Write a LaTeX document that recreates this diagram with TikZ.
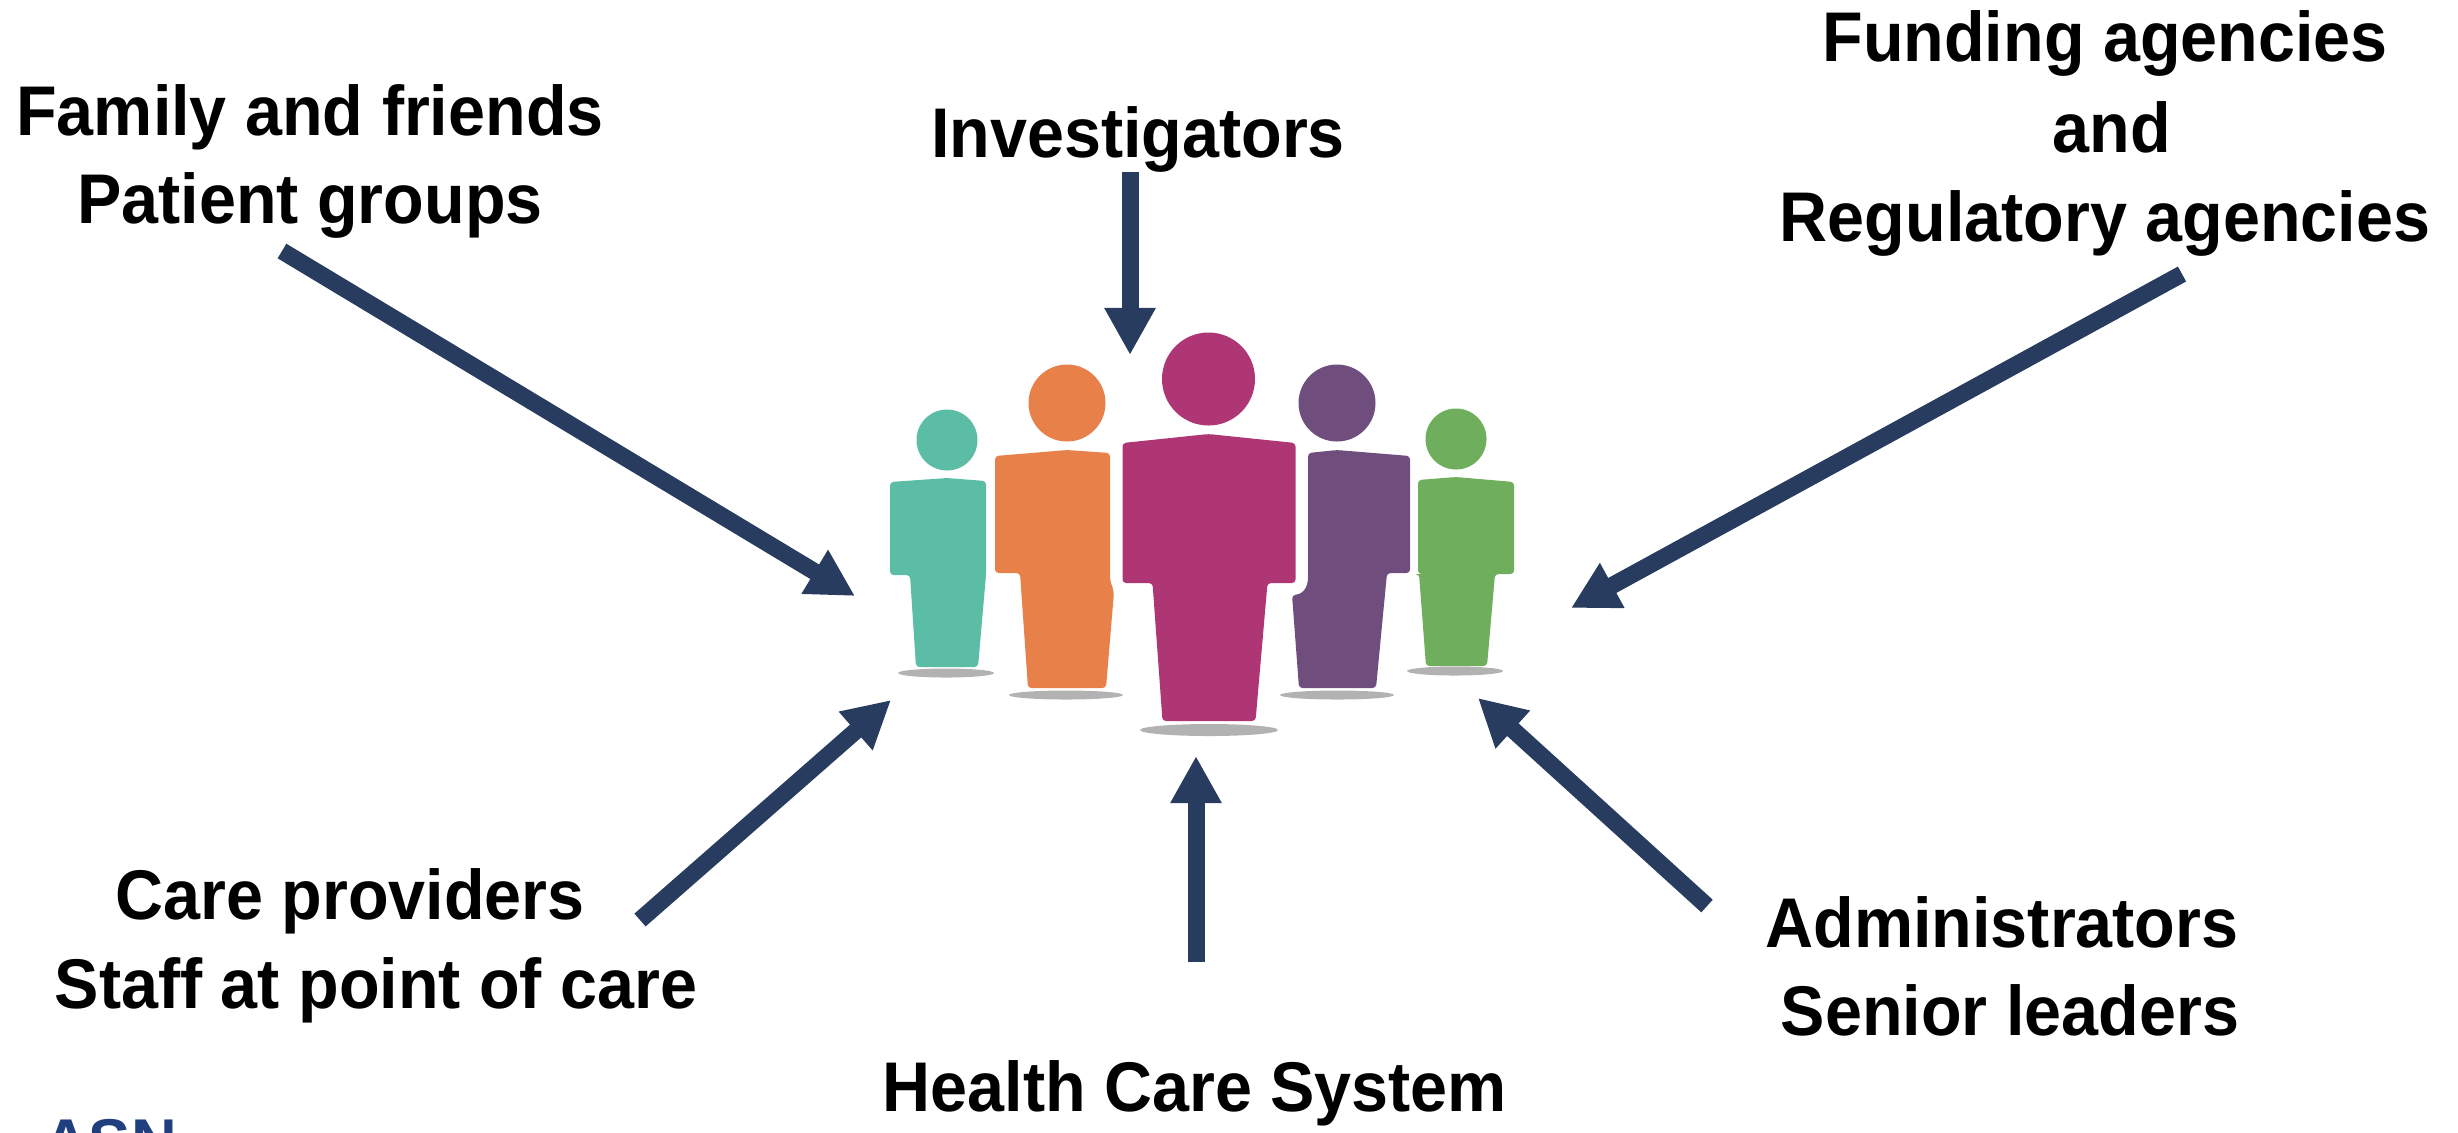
\documentclass[tikz,border=0pt]{standalone}
\usepackage{fontspec}
\setmainfont{Liberation Sans}[FakeStretch=0.945]
\newfontfamily\logofont{Liberation Sans}
\usetikzlibrary{arrows.meta}
\definecolor{arrowblue}{HTML}{273C5E}
\definecolor{logoblue}{HTML}{1F3F7F}
\definecolor{tealp}{HTML}{5BBDA6}
\definecolor{orangep}{HTML}{E8804A}
\definecolor{pinkp}{HTML}{AE3674}
\definecolor{purplep}{HTML}{6F4E7D}
\definecolor{greenp}{HTML}{6FAE5C}
\tikzset{
    label text/.style={anchor=base,inner sep=0pt,font=\fontsize{20}{24}\selectfont\bfseries},
    big arrow/.style={arrowblue,line width=1.7mm,-{Triangle[length=4.7mm,width=4.8mm]}},
    body/.style={rounded corners=1pt}
}
\begin{document}
\begin{tikzpicture}[x=0.01cm,y=-0.01cm]
    \useasboundingbox (0,0) rectangle (2458,1132);

    %Shadows
    \foreach \x/\y/\r/\s in {946/673/48/4.5,1066/695/57/4.5,1209/730/69/6,1337/695/57/4.5,1455/671/48/4.5}{
        \fill[gray!60] (\x,\y) ellipse [x radius=\r,y radius=\s];
    }

    %Heads
    \foreach \x/\y/\r/\c in {947/440/30.5/tealp,1067/403/38.5/orangep,1208.5/379/46.5/pinkp,1337/403/38.5/purplep,1456/439/30.5/greenp}{
        \fill[\c] (\x,\y) circle [radius=\r];
    }

    %Bodies
    \fill[tealp,body] (890,482) -- (947,478) -- (986,481) -- (986,575) -- (978,667) -- (916,667) -- (910,575) -- (890,575) -- cycle;
    \fill[orangep,body] (995,456) -- (1067,450) -- (1110,453) -- (1110,580) -- (1114,592) -- (1106,688) -- (1028,688) -- (1020,573) -- (995,573) -- cycle;
    \fill[pinkp,body] (1122.5,443) -- (1208.5,434) -- (1295.5,443) -- (1295.5,583) -- (1267.5,583) -- (1255.5,721) -- (1162.5,721) -- (1152.5,583) -- (1122.5,583) -- cycle;
    \fill[purplep,body] (1308,453) -- (1337,450) -- (1410,456) -- (1410,573) -- (1387,573) -- (1376,688) -- (1299,688) -- (1292,595) .. controls (1304,594) and (1308,586) .. (1308,574) -- cycle;
    \fill[greenp,body] (1418,480) -- (1456,477) -- (1514,482) -- (1514,574) -- (1495,574) -- (1487,666) -- (1426,666) -- (1419,574) -- (1418,574) -- cycle;

    %Labels
    \node[label text] (family) at (310,135) {Family and friends};
    \node[label text] (patient) at (310,223) {Patient groups};
    \node[label text] (investigators) at (1138,157) {Investigators};
    \node[label text] (funding) at (2105,61) {Funding agencies};
    \node[label text] (and) at (2112,152) {and};
    \node[label text] (regulatory) at (2105,241) {Regulatory agencies};
    \node[label text] (care) at (350,919) {Care providers};
    \node[label text] (staff) at (376,1008) {Staff at point of care};
    \node[label text] (system) at (1195,1111) {Health Care System};
    \node[label text] (admin) at (2002,947) {Administrators};
    \node[label text] (senior) at (2010,1035) {Senior leaders};
    \node[anchor=base,inner sep=0pt,text=logoblue,font=\logofont\fontsize{18}{20}\selectfont\bfseries] (logo) at (110,1163.5) {ASN};

    %Arrows
    \coordinate (familyStart) at (282,251);
    \coordinate (familyEnd) at (855,596);
    \coordinate (investigatorsStart) at (1130,172);
    \coordinate (investigatorsEnd) at (1130,355);
    \coordinate (fundingStart) at (2182,274);
    \coordinate (fundingEnd) at (1571,608);
    \coordinate (careStart) at (640,920);
    \coordinate (careEnd) at (891,700);
    \coordinate (systemStart) at (1196,962);
    \coordinate (systemEnd) at (1196,756);
    \coordinate (adminStart) at (1707,906);
    \coordinate (adminEnd) at (1478,698);
    \foreach \a in {family,investigators,funding,care,system,admin}{
        \draw[big arrow] (\a Start) -- (\a End);
    }
\end{tikzpicture}
\end{document}
